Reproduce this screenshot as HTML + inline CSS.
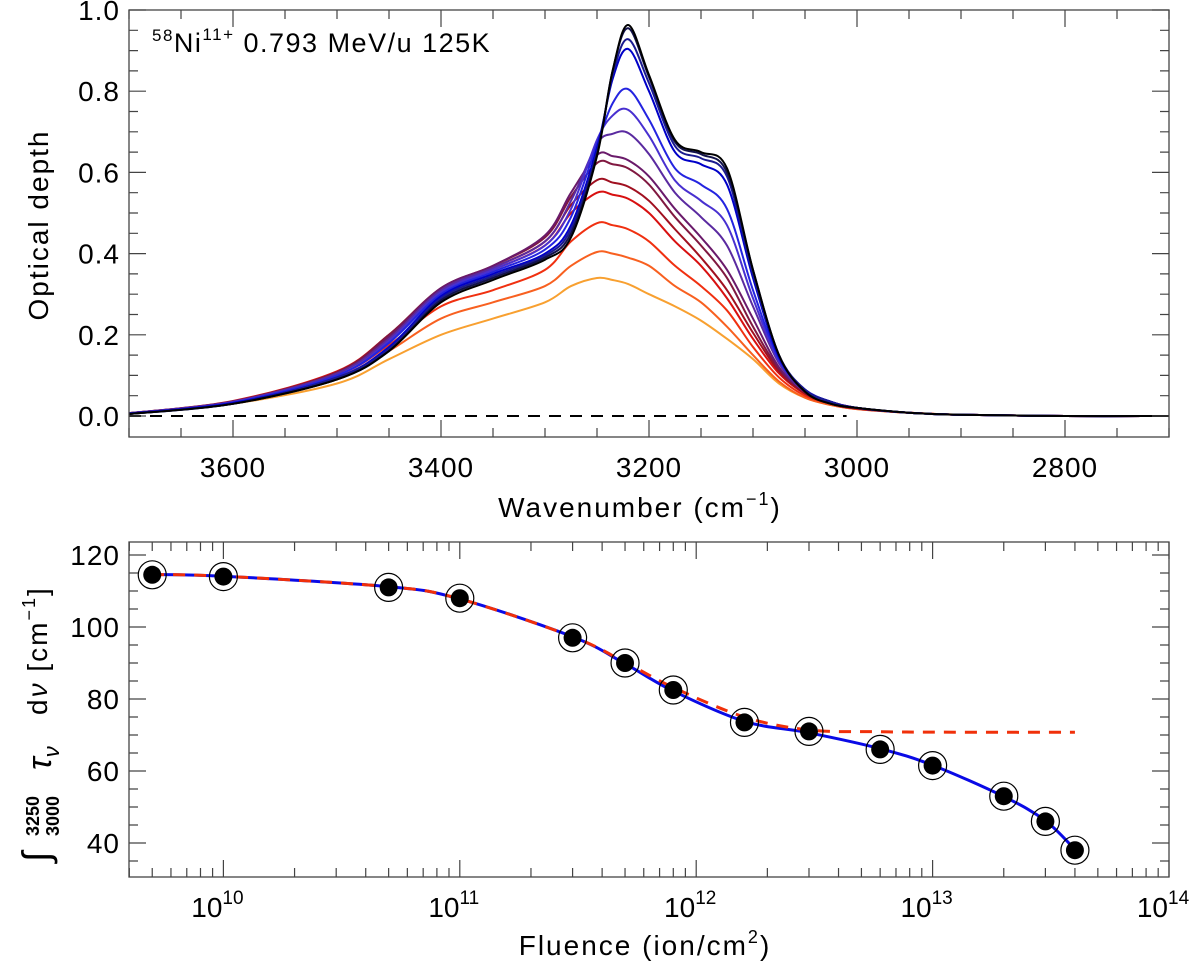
<!DOCTYPE html>
<html><head><meta charset="utf-8"><style>
body{margin:0;background:#fff;}
svg{display:block;font-family:"Liberation Sans","DejaVu Sans",sans-serif;}
</style></head><body>
<svg id="fig" width="1200" height="967" viewBox="0 0 1200 967" xmlns="http://www.w3.org/2000/svg" style="position:absolute;left:0;top:0">
<g id="topPanel"></g>
<g id="botPanel"></g>
</svg>
<script>
// ---------- Top panel data ----------
const wavenumbers = [3700,3600,3500,3450,3400,3350,3300,3275,3250,3235,3220,3200,3175,3150,3125,3100,3075,3050,3025,3000,2950,2900,2800,2700];
const spectrum0  = [.005,.03,.09,.16,.28,.335,.385,.44,.64,.85,.963,.84,.68,.65,.61,.36,.15,.06,.03,.02,.008,.003,0,0];
const spectrum1  = [.005,.03,.09,.16,.285,.34,.39,.45,.645,.85,.955,.835,.675,.645,.60,.36,.15,.06,.03,.02,.008,.003,0,0];
const spectrum2  = [.005,.03,.095,.165,.29,.345,.395,.46,.65,.84,.928,.82,.665,.635,.59,.35,.15,.065,.035,.02,.008,.003,0,0];
const spectrum3  = [.006,.032,.095,.17,.295,.35,.40,.47,.66,.83,.904,.80,.65,.62,.57,.34,.145,.065,.035,.02,.008,.003,0,0];
const spectrum4  = [.006,.033,.10,.18,.30,.355,.41,.49,.67,.77,.805,.73,.61,.57,.51,.31,.14,.065,.035,.02,.008,.003,0,0];
const spectrum5  = [.006,.034,.10,.185,.305,.36,.42,.51,.68,.74,.754,.69,.58,.53,.47,.29,.135,.065,.035,.02,.008,.003,0,0];
const spectrum6  = [.007,.035,.105,.19,.31,.365,.43,.53,.67,.695,.697,.645,.55,.49,.42,.27,.13,.06,.035,.02,.008,.003,0,0];
const spectrum7  = [.007,.036,.105,.195,.315,.37,.445,.55,.643,.64,.63,.59,.51,.44,.36,.24,.12,.06,.035,.02,.008,.003,0,0];
const spectrum8  = [.007,.036,.108,.2,.315,.37,.44,.54,.623,.62,.61,.57,.49,.42,.34,.22,.115,.06,.035,.02,.008,.003,0,0];
const spectrum9  = [.007,.036,.108,.2,.31,.365,.43,.52,.581,.575,.565,.53,.46,.39,.31,.205,.11,.055,.03,.018,.008,.003,0,0];
const spectrum10 = [.007,.037,.11,.2,.31,.36,.42,.50,.55,.545,.535,.50,.43,.37,.29,.19,.105,.055,.03,.018,.008,.003,0,0];
const spectrum11 = [.006,.034,.10,.175,.27,.31,.36,.43,.475,.47,.46,.43,.37,.32,.26,.17,.095,.05,.03,.018,.008,.003,0,0];
const spectrum12 = [.006,.032,.09,.16,.24,.28,.32,.37,.404,.40,.39,.37,.32,.28,.22,.15,.085,.045,.027,.017,.008,.003,0,0];
const spectrum13 = [.005,.03,.08,.14,.20,.24,.28,.32,.34,.335,.325,.30,.27,.235,.19,.14,.08,.045,.027,.017,.008,.003,0,0];
const spectrumColors = ["#000000","#12124a","#1a1a90","#0000c8","#2424e0","#4830d0","#5a2aa0","#6a1a6a","#801840","#a01020","#d81010","#f03010","#f86020","#f8a030"];
const topXTicks = [3600,3400,3200,3000,2800];
const topYTicks = [0.0,0.2,0.4,0.6,0.8,1.0];
// ---------- Bottom panel data ----------
const fluence   = [5e9,1e10,5e10,1e11,3e11,5e11,8e11,1.6e12,3e12,6e12,1e13,2e13,3e13,4e13];
const integrals = [114.5,114,111,108,97,90,82.5,73.5,71,66,61.5,53,46,38];
const fitBlue   = [114.6,114.1,111.2,107.8,97.3,89.8,82.2,73.8,70.6,66.2,61.6,52.9,46.2,38.2];
const fitRed    = [114.6,114.1,111.2,107.8,97.3,90.2,83.2,75.0,71.4,70.9,70.8,70.75,70.75,70.75];
const botXTickExps = [10,11,12,13,14];
const botYTicks = [40,60,80,100,120];

const NS="http://www.w3.org/2000/svg";
function mk(tag, parent, attrs){const e=document.createElementNS(NS,tag);for(const k in attrs)e.setAttribute(k,attrs[k]);parent.appendChild(e);return e;}
function smoothPath(pts){
  let d="M"+pts[0][0].toFixed(2)+","+pts[0][1].toFixed(2);
  for(let i=0;i<pts.length-1;i++){
    const p0=pts[Math.max(0,i-1)],p1=pts[i],p2=pts[i+1],p3=pts[Math.min(pts.length-1,i+2)];
    const c1=[p1[0]+(p2[0]-p0[0])/6,p1[1]+(p2[1]-p0[1])/6];
    const c2=[p2[0]-(p3[0]-p1[0])/6,p2[1]-(p3[1]-p1[1])/6];
    d+="C"+c1[0].toFixed(2)+","+c1[1].toFixed(2)+" "+c2[0].toFixed(2)+","+c2[1].toFixed(2)+" "+p2[0].toFixed(2)+","+p2[1].toFixed(2);
  }
  return d;
}

// ---------- Top panel ----------
const T={l:129,r:1169,t:10,b:437};
const tx=w=>T.l+(3700-w)/1000*(T.r-T.l);
const ty=v=>416-v*406;
const topG=document.getElementById('topPanel');
const spectra=[spectrum0,spectrum1,spectrum2,spectrum3,spectrum4,spectrum5,spectrum6,spectrum7,spectrum8,spectrum9,spectrum10,spectrum11,spectrum12,spectrum13];
const zl=mk('line',topG,{x1:tx(3700),x2:tx(3010),y1:ty(0),y2:ty(0),stroke:"#000","stroke-width":2,"stroke-dasharray":"12,9"});


for(let s=spectra.length-1;s>=0;s--){
  const pts=wavenumbers.map((w,i)=>[tx(w),ty(spectra[s][i])]);
  const p=mk('path',topG,{d:smoothPath(pts),fill:"none",stroke:spectrumColors[s],"stroke-width":2});
  
  
}
const tf=mk('rect',topG,{x:T.l,y:T.t,width:T.r-T.l,height:T.b-T.t,fill:"none",stroke:"#444","stroke-width":1.3});


let tk="";
for(let w=3700;w>=2700;w-=50){const x=tx(w);const L=(w%200===0)?17:9;tk+=`M${x},${T.b}v${-L}M${x},${T.t}v${L}`;}
for(let k=0;k<=20;k++){const v=k*0.05;const y=ty(v);const L=(k%4===0)?17:9;tk+=`M${T.l},${y}h${L}M${T.r},${y}h${-L}`;}
mk('path',topG,{d:tk,stroke:"#444","stroke-width":1.2,fill:"none"});
topXTicks.forEach(w=>{const t=mk('text',topG,{x:tx(w),y:477,"text-anchor":"middle","font-size":28,"letter-spacing":1});t.textContent=w;

});
topYTicks.forEach(v=>{const t=mk('text',topG,{x:120,y:ty(v)+10,"text-anchor":"end","font-size":28,"letter-spacing":1});t.textContent=v.toFixed(1);

});

// ---------- Bottom panel ----------
const B={l:129,r:1169,t:542,b:877};
const bx=f=>B.r-(14-Math.log10(f))*236.4;
const by=v=>627-(v-100)*3.6;
const botG=document.getElementById('botPanel');
const bluePts=fluence.map((f,i)=>[bx(f),by(fitBlue[i])]);
const redPts=fluence.map((f,i)=>[bx(f),by(fitRed[i])]);
const bl=mk('path',botG,{d:smoothPath(bluePts),fill:"none",stroke:"#0a0ae6","stroke-width":3});


const rl=mk('path',botG,{d:smoothPath(redPts),fill:"none",stroke:"#f0300a","stroke-width":3,"stroke-dasharray":"12,9"});


fluence.forEach((f,i)=>{
  const g=mk('g',botG,{});
  
  
  mk('circle',g,{cx:bx(f),cy:by(integrals[i]),r:14,fill:"none",stroke:"#000","stroke-width":1.2});
  mk('circle',g,{cx:bx(f),cy:by(integrals[i]),r:9,fill:"#000"});
});
const bf=mk('rect',botG,{x:B.l,y:B.t,width:B.r-B.l,height:B.b-B.t,fill:"none",stroke:"#444","stroke-width":1.3});


let bk="";
for(let e=9;e<14;e++){for(let m=1;m<10;m++){const f=m*Math.pow(10,e);const x=bx(f);if(x<B.l-0.5)continue;const L=m===1?17:9;bk+=`M${x},${B.b}v${-L}M${x},${B.t}v${L}`;}}
bk+=`M${B.r},${B.b}v-17M${B.r},${B.t}v17`;
for(let v=30;v<=124;v+=5){const y=by(v);if(y<B.t||y>B.b)continue;const L=(v%20===0)?17:9;bk+=`M${B.l},${y}h${L}M${B.r},${y}h${-L}`;}
mk('path',botG,{d:bk,stroke:"#444","stroke-width":1.2,fill:"none"});
botXTickExps.forEach(e=>{const t=mk('text',botG,{x:bx(Math.pow(10,e))-6,y:917,"text-anchor":"middle","font-size":28});
t.innerHTML=`10<tspan dy="-13" font-size="19">${e}</tspan>`;

});
botYTicks.forEach(v=>{const t=mk('text',botG,{x:120,y:by(v)+10,"text-anchor":"end","font-size":28,"letter-spacing":1});t.textContent=v;

});
</script>
<svg style="position:absolute;left:0;top:0" width="1200" height="967">
<text x="152" y="52" font-size="27" letter-spacing="1.5" font-family="Liberation Sans, sans-serif"><tspan font-size="17" dy="-11">58</tspan><tspan dy="11">Ni</tspan><tspan font-size="17" dy="-12">11+</tspan><tspan dy="12"> 0.793 MeV/u 125K</tspan></text>
<text transform="translate(48,225) rotate(-90)" text-anchor="middle" font-size="28" letter-spacing="2" font-family="Liberation Sans, sans-serif">Optical depth</text>
<text x="640" y="517" text-anchor="middle" font-size="28" letter-spacing="2" font-family="Liberation Sans, sans-serif">Wavenumber (cm<tspan font-size="18" dy="-12">−1</tspan><tspan dy="12">)</tspan></text>
<text x="645" y="955" text-anchor="middle" font-size="28" letter-spacing="2" font-family="Liberation Sans, sans-serif">Fluence (ion/cm<tspan font-size="18" dy="-12">2</tspan><tspan dy="12">)</tspan></text>
<g transform="translate(47,710) rotate(-90)" font-family="Liberation Sans, DejaVu Sans, sans-serif">
<text x="-152" y="2" font-size="38" font-style="italic">∫</text>
<text x="-126" y="-8" font-size="18" font-weight="bold">3250</text>
<text x="-126" y="12" font-size="18" font-weight="bold">3000</text>
<text x="-60" y="4" font-size="34" font-style="italic">τ<tspan font-size="22" dy="8">ν</tspan></text>
<text x="-5" y="0" font-size="28" letter-spacing="2">d<tspan font-style="italic">ν</tspan> [cm<tspan font-size="18" dy="-12">−1</tspan><tspan dy="12">]</tspan></text>
</g>
</svg>
</body></html>
